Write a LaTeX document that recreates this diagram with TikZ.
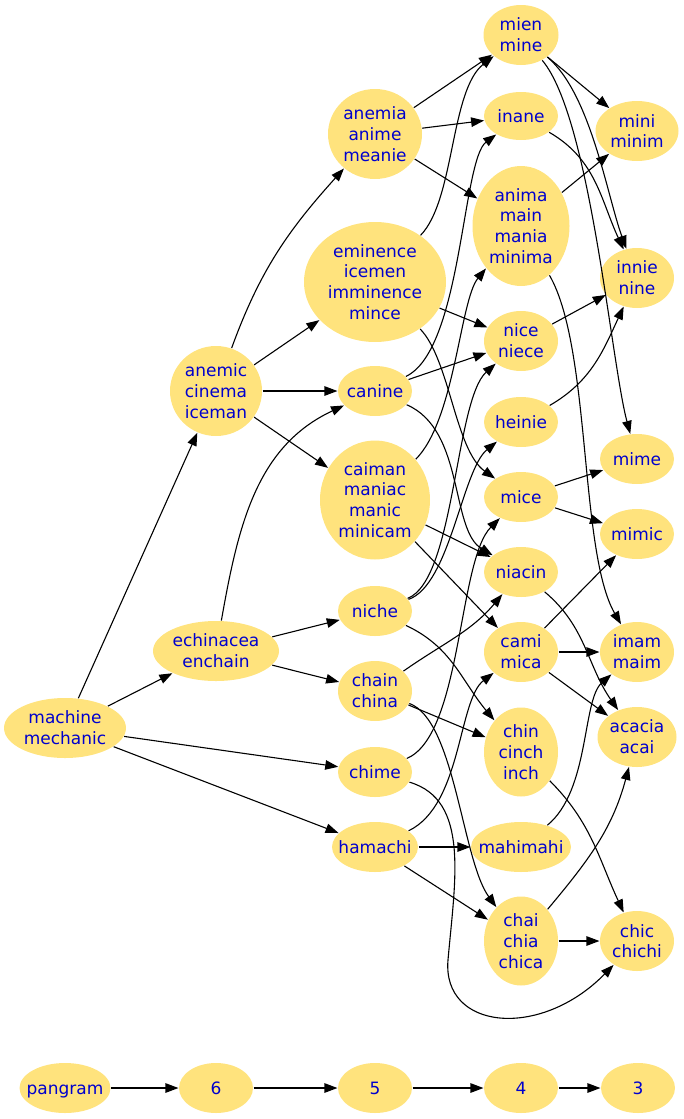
\documentclass[tikz,border=0pt]{standalone}
\usepackage{fontspec}
\setmainfont{DejaVu Sans}
\usepackage{xcolor}
\usepackage{tikz}
\usetikzlibrary{shapes.geometric,arrows.meta}
\definecolor{nodefill}{RGB}{255,227,125}
\definecolor{nodetext}{RGB}{0,0,205}

\begin{document}
\begin{tikzpicture}[x=1pt, y=1pt, >={Triangle[length=13pt,width=9.5pt]}, line width=1.1pt,
    main/.style = {ellipse, fill=nodefill, text=nodetext, inner xsep=-8pt, inner ysep=0pt,
        minimum width=74pt, minimum height=50pt, align=center, font=\fontsize{17}{20.7}\selectfont}]
    \useasboundingbox (0,0) rectangle (684,-1119);
    \node[main, minimum width=122pt, minimum height=60pt] (machine) at (65,-728) {machine\\mechanic};
    \node[main, minimum width=126pt, minimum height=60pt] (echinacea) at (216,-651) {echinacea\\enchain};
    \node[main, minimum width=92pt, minimum height=90pt] (anemic) at (216,-391) {anemic\\cinema\\iceman};
    \node[main, minimum width=94pt, minimum height=90pt] (anemia) at (375,-134) {anemia\\anime\\meanie};
    \node[main, minimum width=142pt, minimum height=120pt] (eminence) at (375,-282) {eminence\\icemen\\imminence\\mince};
    \node[main] (canine) at (375,-391) {canine};
    \node[main, minimum width=110pt, minimum height=119pt] (caiman) at (375,-500) {caiman\\maniac\\manic\\minicam};
    \node[main] (niche) at (375,-611) {niche};
    \node[main, minimum height=60pt] (chain) at (375,-691) {chain\\china};
    \node[main] (chime) at (375,-772) {chime};
    \node[main, minimum width=86pt] (hamachi) at (375,-847) {hamachi};
    \node[main, minimum width=75pt, minimum height=60pt] (mien) at (521,-35) {mien\\mine};
    \node[main, minimum height=48pt] (inane) at (521,-116) {inane};
    \node[main, minimum width=97pt, minimum height=120pt] (anima) at (521,-226) {anima\\main\\mania\\minima};
    \node[main, minimum height=60pt] (nice) at (521,-341) {nice\\niece};
    \node[main] (heinie) at (521,-422) {heinie};
    \node[main] (mice) at (521,-497) {mice};
    \node[main] (niacin) at (521,-572) {niacin};
    \node[main, minimum height=60pt] (cami) at (521,-652) {cami\\mica};
    \node[main, minimum height=89pt] (chin) at (521,-752) {chin\\cinch\\inch};
    \node[main, minimum width=100pt] (mahimahi) at (521,-847) {mahimahi};
    \node[main, minimum height=89pt] (chai) at (521,-941) {chai\\chia\\chica};
    \node[main, minimum width=83pt, minimum height=60pt] (mini) at (637,-131) {mini\\minim};
    \node[main, minimum height=60pt] (innie) at (637,-278) {innie\\nine};
    \node[main] (mime) at (637,-459) {mime};
    \node[main] (mimic) at (637,-534) {mimic};
    \node[main, minimum height=60pt] (imam) at (637,-652) {imam\\maim};
    \node[main, minimum width=79pt, minimum height=60pt] (acacia) at (637,-737) {acacia\\acai};
    \node[main, minimum height=60pt] (chic) at (637,-941) {chic\\chichi};
    \node[main, minimum width=91pt, text height=12.9pt, text depth=0pt] (pangram) at (65,-1088) {pangram};
    \node[main] (six) at (216,-1088) {6};
    \node[main] (five) at (375,-1088) {5};
    \node[main] (four) at (521,-1088) {4};
    \node[main] (three) at (638,-1088) {3};
    \draw[->] (machine) to (anemic);
    \draw[->] (machine) to (echinacea);
    \draw[->] (machine) to (chime);
    \draw[->] (machine) to (hamachi);
    \draw[->] (echinacea) to [out=80,in=205] (canine);
    \draw[->] (echinacea) to (niche);
    \draw[->] (echinacea) to (chain);
    \draw[->] (anemic) to [out=70,in=228] (anemia);
    \draw[->] (anemic) to (eminence);
    \draw[->] (anemic) to (canine);
    \draw[->] (anemic) to (caiman);
    \draw[->] (anemia) to (mien);
    \draw[->] (anemia) to (inane);
    \draw[->] (anemia) to (anima);
    \draw[->] (eminence) .. controls (455,-200) and (450,-90) .. (mien);
    \draw[->] (eminence) to (nice);
    \draw[->] (eminence) .. controls (450,-360) and (455,-450) .. (mice);
    \draw[->] (canine) .. controls (462,-350) and (462,-160) .. (inane);
    \draw[->] (canine) to (nice);
    \draw[->] (canine) .. controls (465,-430) and (450,-530) .. (niacin);
    \draw[->] (caiman) .. controls (455,-420) and (460,-300) .. (anima);
    \draw[->] (caiman) to (niacin);
    \draw[->] (caiman) to (cami);
    \draw[->] (niche) .. controls (455,-580) and (455,-400) .. (nice);
    \draw[->] (niche) .. controls (450,-585) and (462,-470) .. (heinie);
    \draw[->] (niche) to [out=-25,in=130] (chin);
    \draw[->] (chain) to [out=35,in=230] (niacin);
    \draw[->] (chain) to (chin);
    \draw[->] (chain) .. controls (455,-720) and (462,-860) .. (chai);
    \draw[->] (chime) .. controls (462,-735) and (458,-560) .. (mice);
    \draw[->] (chime) .. controls (470,-800) and (455,-880) .. (448,-960) .. controls (442,-1030) and (540,-1040) .. (chic);
    \draw[->] (hamachi) .. controls (462,-805) and (458,-700) .. (cami);
    \draw[->] (hamachi) to (mahimahi);
    \draw[->] (hamachi) to (chai);
    \draw[->] (mien) to (mini);
    \draw[->] (mien) to [out=-40,in=110,looseness=0.7] (innie);
    \draw[->] (mien) to [out=-50,in=105,looseness=0.5] (mime);
    \draw[->] (inane) to [out=-30,in=115] (innie);
    \draw[->] (anima) to (mini);
    \draw[->] (anima) to [out=-60,in=120,looseness=0.6] (imam);
    \draw[->] (nice) to (innie);
    \draw[->] (heinie) to [out=30,in=245] (innie);
    \draw[->] (mice) to (mime);
    \draw[->] (mice) to (mimic);
    \draw[->] (niacin) to [out=-40,in=125] (acacia);
    \draw[->] (cami) to (mimic);
    \draw[->] (cami) to (imam);
    \draw[->] (cami) to (acacia);
    \draw[->] (chin) to [out=-45,in=115] (chic);
    \draw[->] (mahimahi) .. controls (590,-790) and (582,-700) .. (imam);
    \draw[->] (chai) to [out=50,in=255] (acacia);
    \draw[->] (chai) to (chic);
    \draw[->] (pangram) to (six);
    \draw[->] (six) to (five);
    \draw[->] (five) to (four);
    \draw[->] (four) to (three);
\end{tikzpicture}
\end{document}
